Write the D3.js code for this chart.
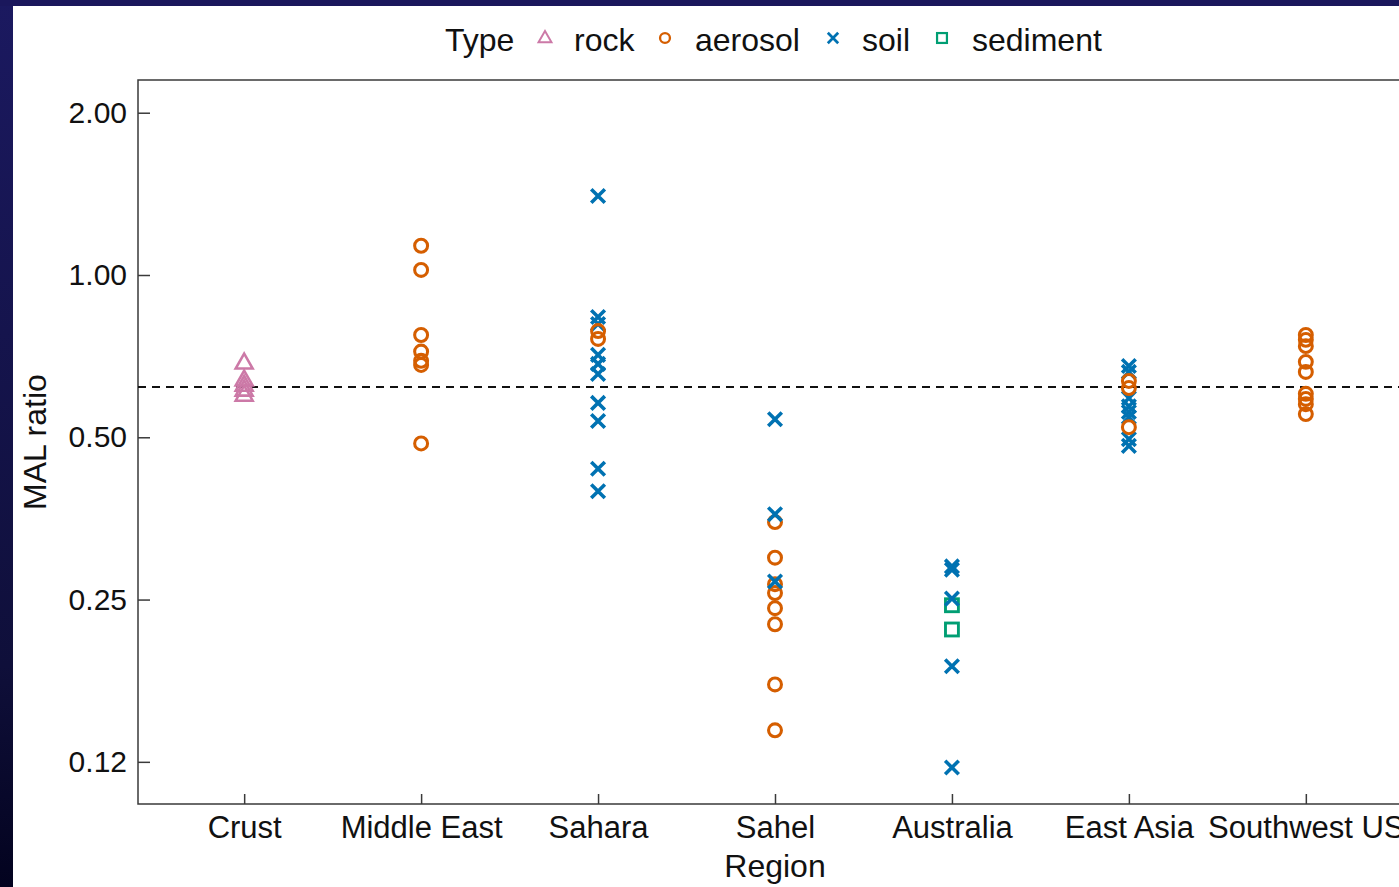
<!DOCTYPE html>
<html>
<head>
<meta charset="utf-8">
<script src="https://cdn.jsdelivr.net/npm/d3@7"></script>
<style>
  html, body { margin: 0; padding: 0; background: #1a1860; overflow: hidden; }
  svg { display: block; font-family: "Liberation Sans", Arial, sans-serif; }
</style>
</head>
<body>
<svg id="chart" width="1399" height="887"></svg>
<script>
// ---- data ----
const regions = ["Crust", "Middle East", "Sahara", "Sahel", "Australia", "East Asia", "Southwest US"];
const types = ["rock", "aerosol", "soil", "sediment"];
const typeColors = ["#CC79A7", "#D55E00", "#0072B2", "#009E73"];
const yTickValues = [0.125, 0.25, 0.5, 1, 2];
const yTickLabels = ["0.12", "0.25", "0.50", "1.00", "2.00"];
const referenceRatio = 0.62;

const crustRock = [0.687, 0.639, 0.625, 0.612, 0.599];
const middleEastAerosol = [1.133, 1.022, 0.774, 0.721, 0.693, 0.681, 0.487];
const saharaSoil = [1.401, 0.836, 0.811, 0.711, 0.684, 0.655, 0.579, 0.536, 0.437, 0.397];
const saharaAerosol = [0.787, 0.761];
const sahelAerosol = [0.348, 0.299, 0.267, 0.257, 0.241, 0.225, 0.174, 0.143];
const sahelSoil = [0.540, 0.360, 0.270];
const australiaSoil = [0.288, 0.284, 0.251, 0.188, 0.122];
const australiaSediment = [0.244, 0.220];
const eastAsiaSoil = [0.678, 0.661, 0.591, 0.571, 0.557, 0.545, 0.496, 0.482];
const eastAsiaAerosol = [0.636, 0.617, 0.522];
const southwestUSAerosol = [0.774, 0.758, 0.738, 0.690, 0.661, 0.602, 0.589, 0.576, 0.552];

const groups = [
  ["Crust", "rock", crustRock],
  ["Middle East", "aerosol", middleEastAerosol],
  ["Sahara", "soil", saharaSoil],
  ["Sahara", "aerosol", saharaAerosol],
  ["Sahel", "aerosol", sahelAerosol],
  ["Sahel", "soil", sahelSoil],
  ["Australia", "sediment", australiaSediment],
  ["Australia", "soil", australiaSoil],
  ["East Asia", "soil", eastAsiaSoil],
  ["East Asia", "aerosol", eastAsiaAerosol],
  ["Southwest US", "aerosol", southwestUSAerosol]
];
const points = [];
groups.forEach(([region, type, vals]) => vals.forEach(v => points.push({region, type, value: v})));

// ---- layout ----
const W = 1399, H = 887;
const plot = {left: 138, top: 80, right: 1412, bottom: 804};

const svg = d3.select("#chart");

const defs = svg.append("defs");
const grad = defs.append("linearGradient").attr("id", "sideGrad")
  .attr("x1", 0).attr("y1", 0).attr("x2", 0).attr("y2", 1);
grad.append("stop").attr("offset", "0%").attr("stop-color", "#1b1960");
grad.append("stop").attr("offset", "75%").attr("stop-color", "#0f0f3a");
grad.append("stop").attr("offset", "100%").attr("stop-color", "#03031f");

svg.append("rect").attr("x", 0).attr("y", 0).attr("width", W).attr("height", H).attr("fill", "url(#sideGrad)");
svg.append("rect").attr("x", 0).attr("y", 0).attr("width", W).attr("height", 6).attr("fill", "#1a175c");
svg.append("rect").attr("x", 13).attr("y", 6).attr("width", W).attr("height", H).attr("fill", "#ffffff");

const x = d3.scalePoint().domain(regions).range([plot.left, plot.right]).padding(0.6);
const y = d3.scaleLog().base(2).domain([0.1044, 2.30]).range([plot.bottom, plot.top]);
const color = d3.scaleOrdinal().domain(types).range(typeColors);

// frame
svg.append("path")
  .attr("d", `M${plot.right},${plot.top} H${plot.left} V${plot.bottom} H${plot.right}`)
  .attr("fill", "none").attr("stroke", "#3a3a3a").attr("stroke-width", 1.5);

// y axis (ticks pointing inside)
const yAxis = d3.axisLeft(y).tickValues(yTickValues)
  .tickFormat((d, i) => yTickLabels[i]).tickSizeInner(-12).tickSizeOuter(0).tickPadding(11);
const gy = svg.append("g").attr("transform", `translate(${plot.left},0)`).call(yAxis);
gy.select(".domain").remove();
gy.selectAll(".tick line").attr("stroke", "#3a3a3a").attr("stroke-width", 1.5);
gy.selectAll(".tick text").attr("font-size", 30).attr("fill", "#111")
  .attr("font-family", "Liberation Sans, Arial, sans-serif");

// x axis (ticks pointing inside)
const xAxis = d3.axisBottom(x).tickSizeInner(-10).tickSizeOuter(0).tickPadding(12);
const gx = svg.append("g").attr("transform", `translate(0,${plot.bottom})`).call(xAxis);
gx.select(".domain").remove();
gx.selectAll(".tick line").attr("stroke", "#3a3a3a").attr("stroke-width", 1.5);
gx.selectAll(".tick text").attr("font-size", 31).attr("fill", "#111")
  .attr("font-family", "Liberation Sans, Arial, sans-serif");

// axis titles
svg.append("text").attr("x", x("Sahel")).attr("y", 877).attr("text-anchor", "middle")
  .attr("font-size", 32).attr("fill", "#111").text("Region");
svg.append("text").attr("transform", `translate(46,${(plot.top + plot.bottom) / 2 + 0}) rotate(-90)`)
  .attr("text-anchor", "middle").attr("font-size", 32).attr("fill", "#111").text("MAL ratio");

// reference line
svg.append("line")
  .attr("x1", plot.left).attr("x2", plot.right)
  .attr("y1", y(referenceRatio)).attr("y2", y(referenceRatio))
  .attr("stroke", "#111").attr("stroke-width", 2).attr("stroke-dasharray", "8,6");

// symbol drawing
function drawSymbol(g, type, s) {
  const c = color(type);
  if (type === "rock") {
    const h = s * 0.88;
    g.append("path").attr("d", `M0,${-h * 0.62} L${s / 2},${h * 0.38} L${-s / 2},${h * 0.38} Z`)
      .attr("fill", "none").attr("stroke", c).attr("stroke-width", s * 0.15);
  } else if (type === "aerosol") {
    g.append("circle").attr("r", s * 0.38).attr("fill", "none").attr("stroke", c).attr("stroke-width", s * 0.18);
  } else if (type === "soil") {
    const a = s * 0.4;
    g.append("path").attr("d", `M${-a},${-a} L${a},${a} M${-a},${a} L${a},${-a}`)
      .attr("fill", "none").attr("stroke", c).attr("stroke-width", s * 0.21);
  } else {
    const a = s * 0.38;
    g.append("rect").attr("x", -a).attr("y", -a).attr("width", 2 * a).attr("height", 2 * a)
      .attr("fill", "none").attr("stroke", c).attr("stroke-width", s * 0.17);
  }
}

const pts = svg.append("g");
points.forEach(p => {
  const g = pts.append("g").attr("transform", `translate(${x(p.region)},${y(p.value)})`);
  drawSymbol(g, p.type, 17);
});

// legend
const legY = 40;
svg.append("text").attr("x", 445).attr("y", legY + 11).attr("font-size", 32).attr("fill", "#111").text("Type");
const legendItems = [
  {type: "rock", sx: 545, tx: 574},
  {type: "aerosol", sx: 665, tx: 695},
  {type: "soil", sx: 833, tx: 862},
  {type: "sediment", sx: 942, tx: 972}
];
legendItems.forEach(it => {
  const g = svg.append("g").attr("transform", `translate(${it.sx},${legY - 2})`);
  drawSymbol(g, it.type, 13);
  svg.append("text").attr("x", it.tx).attr("y", legY + 11).attr("font-size", 32).attr("fill", "#111").text(it.type);
});
</script>
</body>
</html>
